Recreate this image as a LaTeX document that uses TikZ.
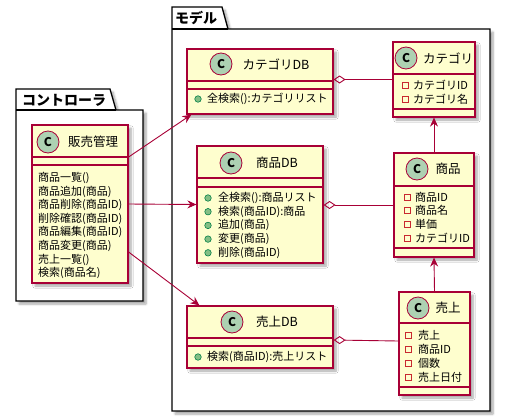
\documentclass[tikz,border=0pt]{standalone}
\usepackage{fontspec}
\setmainfont{Noto Sans CJK JP}
\usetikzlibrary{arrows.meta,shadows.blur}
\definecolor{umlfill}{HTML}{FEFECE}
\definecolor{umlline}{HTML}{A80036}
\definecolor{umlspot}{HTML}{ADD1B2}
\definecolor{privline}{HTML}{C82930}
\definecolor{pubfill}{HTML}{84BE84}
\definecolor{publine}{HTML}{038048}

\tikzset{
  umlshadow/.style={blur shadow={shadow xshift=3pt, shadow yshift=-3pt, shadow blur steps=6, shadow opacity=35}},
  classbox/.style={draw=umlline, fill=umlfill, line width=1.2pt, umlshadow, inner sep=0pt},
  sepline/.style={draw=umlline, line width=1.2pt},
  spot/.style={circle, draw=umlline, fill=umlspot, line width=0.8pt, minimum size=22pt, inner sep=0pt, font=\fontsize{12}{12}\selectfont\bfseries},
  classname/.style={inner sep=0pt, font=\fontsize{12.5}{14}\selectfont},
  member/.style={anchor=west, inner sep=0pt, font=\fontsize{11}{13}\selectfont},
  privmark/.style={draw=privline, line width=0.8pt, minimum size=6pt, inner sep=0pt},
  pubmark/.style={circle, draw=publine, fill=pubfill, line width=0.6pt, minimum size=6.5pt, inner sep=0pt},
  pkg/.style={draw=black, fill=white, line width=1.3pt, umlshadow},
  pkgname/.style={anchor=west, inner sep=0pt, font=\fontsize{14}{14}\selectfont\bfseries},
  dep/.style={draw=umlline, line width=0.9pt, -{Stealth[length=9pt,width=8pt,inset=3pt]}},
  aggr/.style={draw=umlline, line width=0.9pt, {Diamond[open,length=12pt,width=8pt]}-},
}

\begin{document}
\begin{tikzpicture}[x=1pt, y=-1pt]
  \useasboundingbox (0,0) rectangle (508,418);

  % --- packages ---
  \draw[pkg] (16,89) -- (110,89) -- (116,110) -- (143,110) -- (143,301) -- (16,301) -- cycle;
  \draw[line width=1.3pt] (16,110) -- (116,110);
  \node[pkgname] (ctrlname) at (22,100) {コントローラ};

  \draw[pkg] (172,7) -- (222,7) -- (228,29) -- (490,29) -- (490,411) -- (172,411) -- cycle;
  \draw[line width=1.3pt] (172,29) -- (228,29);
  \node[pkgname] (modelname) at (175,18) {モデル};

  % --- 販売管理 ---
  \node[classbox, minimum width=96pt, minimum height=158pt] (hanbai) at (80,204) {};
  \draw[sepline] (hanbai.west |- 0,157) -- (hanbai.east |- 0,157);
  \draw[sepline] (hanbai.west |- 0,165) -- (hanbai.east |- 0,165);
  \node[spot] (hanbaiC) at (48,142) {C};
  \node[classname] (hanbaiN) at (93,142) {販売管理};
  \foreach \m [count=\i] in {{商品一覧()}, {商品追加(商品)}, {商品削除(商品ID)}, {削除確認(商品ID)},
      {商品編集(商品ID)}, {商品変更(商品)}, {売上一覧()}, {検索(商品名)}} {
    \node[member] (hanbaiM\i) at (38,164.4+13.6*\i) {\m};
  }

  % --- カテゴリDB ---
  \node[classbox, minimum width=146pt, minimum height=65pt] (catdb) at (260,81.5) {};
  \draw[sepline] (catdb.west |- 0,81) -- (catdb.east |- 0,81);
  \draw[sepline] (catdb.west |- 0,89) -- (catdb.east |- 0,89);
  \node[spot] (catdbC) at (221,64) {C};
  \node[classname] (catdbN) at (276,64) {カテゴリDB};
  \node[pubmark] (catdbP1) at (198,99) {};
  \node[member] (catdbM1) at (207,99) {全検索():カテゴリリスト};

  % --- カテゴリ ---
  \node[classbox, minimum width=82pt, minimum height=75pt] (cat) at (434,79.5) {};
  \draw[sepline] (cat.west |- 0,74) -- (cat.east |- 0,74);
  \draw[sepline] (cat.west |- 0,109) -- (cat.east |- 0,109);
  \node[spot] (catC) at (406,58) {C};
  \node[classname] (catN) at (448,58) {カテゴリ};
  \foreach \m [count=\i] in {{カテゴリID}, {カテゴリ名}} {
    \node[privmark] (catP\i) at (405,71+14*\i) {};
    \node[member] (catM\i) at (413,71+14*\i) {\m};
  }

  % --- 商品DB ---
  \node[classbox, minimum width=126pt, minimum height=117pt] (shohindb) at (260,204.5) {};
  \draw[sepline] (shohindb.west |- 0,178) -- (shohindb.east |- 0,178);
  \draw[sepline] (shohindb.west |- 0,187) -- (shohindb.east |- 0,187);
  \node[spot] (shohindbC) at (231,163) {C};
  \node[classname] (shohindbN) at (277,163) {商品DB};
  \foreach \m [count=\i] in {{全検索():商品リスト}, {検索(商品ID):商品}, {追加(商品)}, {変更(商品)}, {削除(商品ID)}} {
    \node[pubmark] (shohindbP\i) at (208,184.3+13.7*\i) {};
    \node[member] (shohindbM\i) at (218,184.3+13.7*\i) {\m};
  }

  % --- 商品 ---
  \node[classbox, minimum width=80pt, minimum height=104pt] (shohin) at (434,205) {};
  \draw[sepline] (shohin.west |- 0,186) -- (shohin.east |- 0,186);
  \draw[sepline] (shohin.west |- 0,248) -- (shohin.east |- 0,248);
  \node[spot] (shohinC) at (417,169) {C};
  \node[classname] (shohinN) at (448,169) {商品};
  \foreach \m [count=\i] in {{商品ID}, {商品名}, {単価}, {カテゴリID}} {
    \node[privmark] (shohinP\i) at (407,183.3+13.7*\i) {};
    \node[member] (shohinM\i) at (415,183.3+13.7*\i) {\m};
  }

  % --- 売上DB ---
  \node[classbox, minimum width=146pt, minimum height=62pt] (uriagedb) at (260,337) {};
  \draw[sepline] (uriagedb.west |- 0,338) -- (uriagedb.east |- 0,338);
  \draw[sepline] (uriagedb.west |- 0,346) -- (uriagedb.east |- 0,346);
  \node[spot] (uriagedbC) at (232,322) {C};
  \node[classname] (uriagedbN) at (277,322) {売上DB};
  \node[pubmark] (uriagedbP1) at (198,357) {};
  \node[member] (uriagedbM1) at (207,357) {検索(商品ID):売上リスト};

  % --- 売上 ---
  \node[classbox, minimum width=71pt, minimum height=103pt] (uriage) at (434.5,343.5) {};
  \draw[sepline] (uriage.west |- 0,323) -- (uriage.east |- 0,323);
  \draw[sepline] (uriage.west |- 0,387) -- (uriage.east |- 0,387);
  \node[spot] (uriageC) at (418,308) {C};
  \node[classname] (uriageN) at (448,308) {売上};
  \foreach \m [count=\i] in {{売上}, {商品ID}, {個数}, {売上日付}} {
    \node[privmark] (uriageP\i) at (408,321+14*\i) {};
    \node[member] (uriageM\i) at (418,321+14*\i) {\m};
  }

  % --- connectors ---
  \draw[dep] ([yshift=47pt]hanbai.east) -- ([xshift=5pt]catdb.south west);
  \draw[dep] (hanbai.east) -- (shohindb.west);
  \draw[dep] ([yshift=-48pt]hanbai.east) -- ([xshift=13pt]uriagedb.north west);
  \draw[aggr] (cat.west -| catdb.east) -- (cat.west);
  \draw[aggr] (shohin.west -| shohindb.east) -- (shohin.west);
  \draw[aggr] ([yshift=-3pt]uriagedb.east) -- ([yshift=2.5pt]uriage.west);
  \draw[dep] (shohin.north) -- (cat.south);
  \draw[dep] (uriage.north) -- (shohin.south);
\end{tikzpicture}
\end{document}
